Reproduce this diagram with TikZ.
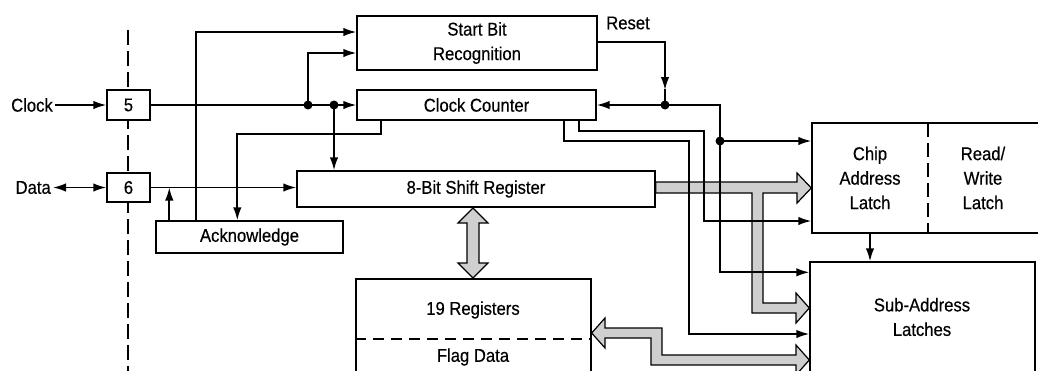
\documentclass[tikz,border=0pt]{standalone}
\usepackage{fontspec}
\setmainfont{Liberation Sans}[FakeStretch=0.9,FakeBold=0.4]
\usetikzlibrary{arrows.meta,calc}
\begin{document}
\begin{tikzpicture}[x=1pt,y=-1pt,
  txt/.style={font=\fontsize{18.5}{24.5}\selectfont, align=center, inner sep=0pt},
  blk/.style={txt, draw, fill=white, line width=1.4pt},
  wire/.style={line width=1.7pt},
  arr/.style={wire, -{Latex[length=13pt,width=8.5pt]}},
  dot/.style={circle, fill, inner sep=0pt, minimum size=9pt},
  bus/.style={fill=gray!38, draw, line width=1.2pt, line join=miter}]
\useasboundingbox (0,0) rectangle (1038,370);
\clip (0,0) rectangle (1038,370);
\fill[white] (0,0) rectangle (1038,370);

% chip boundary
\draw[line width=2.5pt, dash pattern=on 15pt off 6pt] (128,30) -- (128,372);

% pins and external labels
\node[blk, minimum width=43pt, minimum height=30pt] (p5) at (128.5,105) {5};
\node[blk, minimum width=43pt, minimum height=29pt] (p6) at (128.5,187.5) {6};
\node[txt, anchor=east] (clk) at (53,105) {Clock};
\node[txt, anchor=east] (dat) at (51,187.5) {Data};
\draw[arr] ([xshift=2pt]clk.east) -- (p5.west);
\draw[wire, {Latex[length=13pt,width=8.5pt]}-{Latex[length=13pt,width=8.5pt]}] ([xshift=2pt]dat.east) -- (p6.west);

% blocks
\node[blk, minimum width=240pt, minimum height=54pt] (sbr) at (477,43) {Start Bit\\Recognition};
\node[blk, minimum width=239pt, minimum height=30pt] (cc) at (476.5,105) {Clock Counter};
\node[blk, minimum width=358pt, minimum height=36pt] (sr) at (476,189) {8-Bit Shift Register};
\node[blk, minimum width=187pt, minimum height=32pt] (ack) at (249.5,237) {Acknowledge};
\node[blk, minimum width=235pt, minimum height=106pt] (reg) at (473.5,332) {};
\node[txt] (regt) at (473,310) {19 Registers};
\node[txt] (flag) at (473,357) {Flag Data};
\draw[line width=1.1pt, dash pattern=on 11pt off 7pt] (reg.west |- 0,339) -- (reg.east |- 0,339);

\node[blk, minimum width=233pt, minimum height=110pt] (latch) at (928.5,178) {};
\draw[line width=1.3pt, dash pattern=on 14pt off 6pt] (928,123) -- (928,233);
\node[txt] (cal) at (870,178) {Chip\\Address\\Latch};
\node[txt] (rw) at (983,178) {Read/\\Write\\Latch};
\node[blk, minimum width=225pt, minimum height=123pt] (sal) at (922.5,323.5) {};
\node[txt] (salt) at (922,317) {Sub-Address\\Latches};

% buses
\draw[bus] (sr.east |- 0,182) -- (797,182) -- (797,173) -- (latch.west |- 0,188) -- (797,203) -- (797,193)
  -- (763,193) -- (763,303) -- (796,303) -- (796,293) -- (sal.west |- 0,308) -- (796,323) -- (796,313)
  -- (752,313) -- (752,193) -- (sr.east |- 0,193) -- cycle;
\draw[bus] (reg.east |- 0,333) -- (605,318) -- (605,328) -- (662,328) -- (662,355) -- (796,355) -- (796,345)
  -- (sal.west |- 0,360) -- (796,375) -- (796,365) -- (651,365) -- (651,338) -- (605,338) -- (605,348) -- cycle;
\draw[bus] (473,208) -- (488,223) -- (479,223) -- (479,263) -- (488,263) -- (473,278) -- (458,263)
  -- (467,263) -- (467,223) -- (458,223) -- cycle;

% control wires
\coordinate (j1) at (308,105);
\coordinate (j2) at (334,105);
\coordinate (a1) at ($(ack.north west)+(14,0)$);
\coordinate (a2) at ($(ack.north west)+(41,0)$);
\coordinate (a3) at ($(ack.north west)+(82,0)$);
\coordinate (c1) at ($(cc.south west)+(25,0)$);
\coordinate (c2) at ($(cc.south east)+(-33,0)$);
\coordinate (c3) at ($(cc.south east)+(-18,0)$);
\coordinate (rj) at (665,105);
\coordinate (j3) at (720,141);

\draw[arr] (p5.east) -- (cc.west);
\draw[arr] (j1) |- ($(sbr.west)+(0,10)$);
\draw[arr] (j2) -- (j2 |- sr.north);
\draw[arr] (a2) |- ($(sbr.west)+(0,-11)$);
\draw[arr] (p6.east) -- (sr.west |- p6.east);
\draw[arr] (a1) -- (a1 |- p6.east);
\draw[arr] (c1) -- ++(0,13) -| (a3);

\draw[arr] ($(sbr.east)+(0,-1)$) -| ($(rj)+(0,-15)$);
\draw[wire] ($(rj)+(0,-16)$) -- (rj);
\node[txt] (rst) at (628,23) {Reset};
\draw[arr] (rj) -- (cc.east);
\draw[wire] (rj) -| (j3);
\draw[arr] (j3) -- (j3 -| latch.west);
\draw[arr] (j3) |- ($(sal.north west)+(0,11)$);
\draw[arr] (c3) -- ++(0,10) -| (704,221) -- (latch.west |- 704,221);
\draw[arr] (c2) -- ++(0,20) -| (689,334) -- (sal.west |- 689,334);
\draw[arr] (cal.south |- latch.south) -- (cal.south |- sal.north);

\node[dot] (d1) at (j1) {};
\node[dot] (d2) at (j2) {};
\node[dot] (d3) at (rj) {};
\node[dot] (d4) at (j3) {};
\end{tikzpicture}
\end{document}
